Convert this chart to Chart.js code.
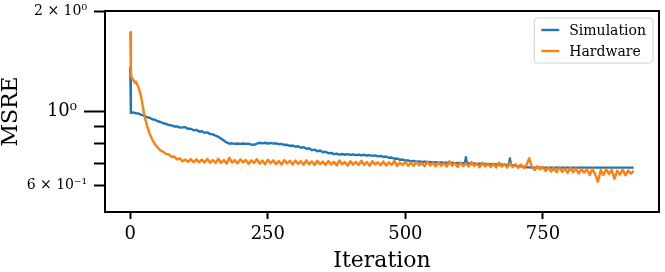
<!DOCTYPE html>
<html>
<head>
<meta charset="utf-8">
<script src="https://cdn.jsdelivr.net/npm/chart.js@4.4.0/dist/chart.umd.js"></script>
<style>
  html, body { margin: 0; background: #fff; }
  #wrap { width: 665px; height: 272px; }
</style>
</head>
<body>
<div id="wrap"><canvas id="chart" width="665" height="272"></canvas></div>
<script>
// Simulation run: iteration -> MSRE
const simIter = [0, 1,
  5, 10, 15, 20, 25, 30, 35, 40, 45, 50,
  55, 60, 65, 70, 75, 80, 85, 90, 95, 100,
  105, 110, 115, 120, 125, 130, 135, 140, 145, 150,
  155, 160, 165, 170, 175, 180, 185, 190, 195, 200,
  205, 210, 215, 220, 225, 230, 235, 240, 245, 250,
  255, 260, 265, 270, 275, 280, 285, 290, 295, 300,
  305, 310, 315, 320, 325, 330, 335, 340, 345, 350,
  355, 360, 365, 370, 375, 380, 385, 390, 395, 400,
  405, 410, 415, 420, 425, 430, 435, 440, 445, 450,
  455, 460, 465, 470, 475, 480, 485, 490, 495, 500,
  505, 510, 515, 520, 525, 530, 535, 540, 545, 550,
  555, 560, 565, 570, 575, 580, 585, 590, 595, 600,
  605, 608, 610, 612,
  615, 620, 625, 630, 635, 640, 645, 650, 655, 660, 665, 670, 675, 680, 685,
  688, 690, 692,
  695, 700, 705, 710, 715, 720, 725, 730, 915];
const simMsre = [1.36, 0.99,
  0.994, 0.987, 0.986, 0.977, 0.973, 0.962, 0.958, 0.948, 0.944, 0.935,
  0.930, 0.922, 0.918, 0.911, 0.909, 0.902, 0.902, 0.895, 0.896, 0.897,
  0.887, 0.888, 0.879, 0.881, 0.871, 0.873, 0.864, 0.866, 0.856, 0.854,
  0.846, 0.840, 0.829, 0.819, 0.808, 0.801, 0.803, 0.800, 0.802, 0.800,
  0.802, 0.799, 0.801, 0.796, 0.795, 0.801, 0.806, 0.803, 0.806, 0.802,
  0.805, 0.801, 0.803, 0.798, 0.800, 0.794, 0.795, 0.789, 0.791, 0.785,
  0.787, 0.779, 0.782, 0.773, 0.776, 0.766, 0.769, 0.760, 0.764, 0.755,
  0.758, 0.750, 0.752, 0.745, 0.748, 0.743, 0.746, 0.742, 0.745, 0.741,
  0.744, 0.740, 0.743, 0.739, 0.742, 0.738, 0.740, 0.736, 0.739, 0.734,
  0.736, 0.731, 0.733, 0.727, 0.728, 0.722, 0.723, 0.717, 0.718, 0.713,
  0.714, 0.709, 0.711, 0.707, 0.709, 0.706, 0.708, 0.705, 0.706, 0.704,
  0.705, 0.703, 0.704, 0.702, 0.703, 0.701, 0.702, 0.700, 0.701, 0.699,
  0.700, 0.699, 0.730, 0.699,
  0.700, 0.697, 0.699, 0.696, 0.698, 0.695, 0.697, 0.694, 0.696, 0.693, 0.695, 0.692, 0.694, 0.691, 0.693,
  0.691, 0.724, 0.690,
  0.690, 0.688, 0.687, 0.685, 0.683, 0.681, 0.680, 0.679, 0.679];

// Hardware run: iteration -> MSRE
const hwIter = [0, 1, 2, 4, 6, 8,
  10, 15, 20, 25, 30, 35, 40, 45, 50, 55,
  60, 65, 70, 75, 80, 85, 90, 95, 100, 105,
  110, 115, 120, 125, 130, 135, 140, 145, 150, 155,
  160, 165, 170, 175, 180, 185, 190, 195, 200, 205,
  210, 215, 220, 225, 230, 235, 240, 245, 250, 255,
  260, 265, 270, 275, 280, 285, 290, 295, 300, 305,
  310, 315, 320, 325, 330, 335, 340, 345, 350, 355,
  360, 365, 370, 375, 380, 385, 390, 395, 400, 405,
  410, 415, 420, 425, 430, 435, 440, 445, 450, 455,
  460, 465, 470, 475, 480, 485, 490, 495, 500, 505,
  510, 515, 520, 525, 530, 535, 540, 545, 550, 555,
  560, 565, 570, 575, 580, 585, 590, 595, 600, 605,
  610, 615, 620, 625, 630, 635, 640, 645, 650, 655,
  660, 665, 670, 675, 680, 685, 690, 695, 700, 705,
  710, 715, 720, 725, 730, 735, 740, 745, 750, 755,
  760, 765, 770, 775, 780, 785, 790, 795, 800, 805,
  810, 815, 820, 825, 830, 835, 840, 845, 850, 855,
  860, 865, 870, 875, 880, 885, 890, 895, 900, 905,
  910, 915];
const hwMsre = [1.73, 1.31, 1.27, 1.25, 1.24, 1.22,
  1.23, 1.18, 1.10, 0.985, 0.910, 0.860, 0.823, 0.797, 0.779, 0.764,
  0.757, 0.746, 0.744, 0.731, 0.733, 0.719, 0.724, 0.709, 0.718, 0.706,
  0.720, 0.705, 0.719, 0.704, 0.718, 0.703, 0.721, 0.702, 0.716, 0.701,
  0.722, 0.701, 0.716, 0.698, 0.727, 0.703, 0.715, 0.699, 0.719, 0.703,
  0.716, 0.697, 0.714, 0.701, 0.720, 0.698, 0.713, 0.695, 0.717, 0.700,
  0.714, 0.696, 0.711, 0.694, 0.716, 0.699, 0.712, 0.693, 0.713, 0.697,
  0.710, 0.693, 0.714, 0.695, 0.709, 0.691, 0.712, 0.696, 0.708, 0.692,
  0.711, 0.694, 0.707, 0.690, 0.713, 0.695, 0.706, 0.689, 0.710, 0.693,
  0.707, 0.691, 0.712, 0.692, 0.706, 0.688, 0.709, 0.694, 0.705, 0.690,
  0.708, 0.689, 0.704, 0.692, 0.711, 0.687, 0.703, 0.691, 0.707, 0.688,
  0.704, 0.687, 0.706, 0.690, 0.701, 0.686, 0.708, 0.689, 0.702, 0.685,
  0.703, 0.687, 0.700, 0.684, 0.709, 0.688, 0.701, 0.683, 0.704, 0.686,
  0.700, 0.684, 0.706, 0.687, 0.698, 0.681, 0.703, 0.685, 0.699, 0.682,
  0.698, 0.680, 0.703, 0.684, 0.696, 0.679, 0.700, 0.682, 0.695, 0.678,
  0.694, 0.677, 0.691, 0.724, 0.684, 0.668, 0.686, 0.671, 0.682, 0.663,
  0.680, 0.661, 0.677, 0.658, 0.682, 0.660, 0.675, 0.655, 0.679, 0.657,
  0.675, 0.652, 0.673, 0.656, 0.671, 0.645, 0.674, 0.648, 0.616, 0.667,
  0.646, 0.672, 0.650, 0.668, 0.628, 0.665, 0.647, 0.670, 0.644, 0.666,
  0.652, 0.664];

const xTicks = [0, 250, 500, 750];
const yMajorTicks = [1];
const yMinorTicks = [0.6, 0.7, 0.8, 0.9, 2];
const yTickLabels = { 1: '10⁰', 0.6: '6 × 10⁻¹', 2: '2 × 10⁰' };

const FONT = '"DejaVu Serif", serif';

// the minor axis is 0 wide in the layout; widen its box so its labels are not clipped
const widenMinor = {
  id: 'widenMinor',
  afterLayout(chart) {
    const s = chart.scales.yMinor;
    s.left = 0;
    s.width = s.right;
  }
};

// matplotlib-like box around the plot
const frame = {
  id: 'frame',
  afterDatasetsDraw(chart) {
    const { ctx, chartArea: a } = chart;
    ctx.save();
    ctx.strokeStyle = '#000';
    ctx.lineWidth = 2;
    ctx.strokeRect(a.left, a.top, a.right - a.left, a.bottom - a.top);
    ctx.restore();
  }
};

// legend with a rounded frame, top right inside the axes
const boxedLegend = {
  id: 'boxedLegend',
  afterDraw(chart) {
    const { ctx, chartArea } = chart;
    const sets = chart.data.datasets;
    ctx.save();
    ctx.font = '14px ' + FONT;
    const textW = Math.max(...sets.map(d => ctx.measureText(d.label).width));
    const w = 35 + textW + 7, h = 45;
    const x = chartArea.right - 6 - w, y = chartArea.top + 7;
    ctx.beginPath();
    ctx.roundRect(x, y, w, h, 3);
    ctx.fillStyle = 'rgba(255,255,255,0.8)';
    ctx.fill();
    ctx.strokeStyle = '#d0d0d0';
    ctx.lineWidth = 1;
    ctx.stroke();
    sets.forEach((d, i) => {
      const cy = y + 12 + i * 21;
      ctx.strokeStyle = d.borderColor;
      ctx.lineWidth = 2.4;
      ctx.beginPath();
      ctx.moveTo(x + 7, cy);
      ctx.lineTo(x + 25, cy);
      ctx.stroke();
      ctx.fillStyle = '#000';
      ctx.textBaseline = 'middle';
      ctx.fillText(d.label, x + 35, cy + 1);
    });
    ctx.restore();
  }
};

const toPoints = (xs, ys) => xs.map((x, i) => ({ x: x, y: ys[i] }));

new Chart(document.getElementById('chart'), {
  type: 'line',
  data: {
    datasets: [
      {
        label: 'Simulation',
        data: toPoints(simIter, simMsre),
        borderColor: '#1f77b4',
        backgroundColor: '#1f77b4',
        borderWidth: 2.4,
        pointRadius: 0,
        borderJoinStyle: 'round',
        order: 1
      },
      {
        label: 'Hardware',
        data: toPoints(hwIter, hwMsre),
        borderColor: '#ff7f0e',
        backgroundColor: '#ff7f0e',
        borderWidth: 2.4,
        pointRadius: 0,
        borderJoinStyle: 'round',
        order: 0
      }
    ]
  },
  options: {
    responsive: false,
    animation: false,
    events: [],
    layout: { padding: { top: 11, right: 6, bottom: 0, left: 0 } },
    plugins: { legend: { display: false }, tooltip: { enabled: false } },
    scales: {
      x: {
        type: 'linear',
        min: -46,
        max: 961,
        afterBuildTicks: s => { s.ticks = xTicks.map(v => ({ value: v })); },
        afterFit: s => { s.height = 60; s.paddingLeft = 0; s.paddingRight = 0; },
        border: { display: false },
        grid: { drawOnChartArea: false, tickLength: 7, tickWidth: 2, tickColor: '#000' },
        ticks: {
          autoSkip: false, maxRotation: 0, padding: 5, color: '#000',
          font: { family: FONT, size: 18 },
          callback: v => String(v)
        },
        title: {
          display: true, text: 'Iteration', color: '#000', padding: 0,
          font: { family: FONT, size: 22, lineHeight: 1 }
        }
      },
      y: {
        type: 'logarithmic',
        position: 'left',
        weight: 2,
        min: 0.5,
        max: 2,
        afterBuildTicks: s => { s.ticks = yMajorTicks.map(v => ({ value: v, major: true })); },
        afterFit: s => { s.width = 105; s.paddingTop = 0; s.paddingBottom = 0; },
        border: { display: false },
        grid: { drawOnChartArea: false, tickLength: 21, tickWidth: 2, tickColor: '#000' },
        ticks: {
          autoSkip: false, padding: 7, color: '#000',
          font: { family: FONT, size: 18 },
          callback: v => yTickLabels[v] || ''
        },
        title: {
          display: true, text: 'MSRE', color: '#000', padding: 0,
          font: { family: FONT, size: 22, lineHeight: 1 }
        }
      },
      yMinor: {
        type: 'logarithmic',
        position: 'left',
        weight: 1,
        min: 0.5,
        max: 2,
        afterBuildTicks: s => { s.ticks = yMinorTicks.map(v => ({ value: v })); },
        afterFit: s => { s.width = 0; s.paddingTop = 0; s.paddingBottom = 0; },
        border: { display: false },
        grid: { drawOnChartArea: false, tickLength: 11, tickWidth: 2, tickColor: '#000' },
        ticks: {
          autoSkip: false, padding: 7, color: '#000',
          font: { family: FONT, size: 14 },
          callback: v => yTickLabels[v] || ''
        }
      }
    }
  },
  plugins: [widenMinor, frame, boxedLegend]
});
</script>
</body>
</html>
